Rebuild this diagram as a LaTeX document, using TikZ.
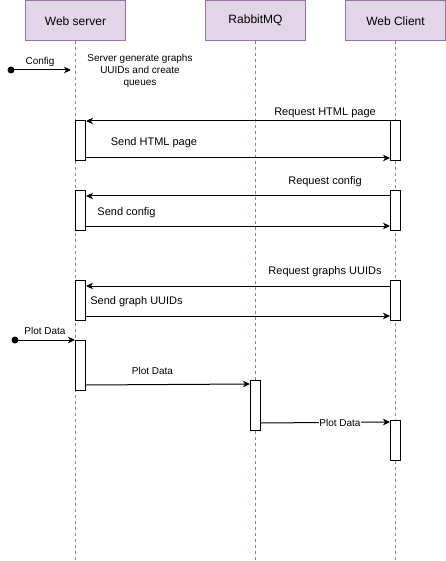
\documentclass[tikz,border=0pt]{standalone}
\usepackage{fontspec}
\setmainfont{Liberation Sans}
\usetikzlibrary{arrows.meta,calc}
\definecolor{hdrfill}{HTML}{E1D5E7}
\definecolor{hdrline}{HTML}{9673A6}
\begin{document}
\begin{tikzpicture}[x=1pt,y=-1pt,
  hdr/.style={draw=hdrline, fill=hdrfill, line width=1pt, minimum width=100pt, minimum height=39.5pt, inner sep=0pt, font=\fontsize{12}{14}\selectfont},
  life/.style={draw=hdrline, dash pattern=on 3pt off 3pt, line width=0.8pt},
  bar/.style={draw, fill=white, line width=1pt, minimum width=10pt, inner sep=0pt},
  msg/.style={draw, line width=1pt, -{Stealth[length=7pt,width=6.5pt,inset=2pt]}},
  lbl/.style={font=\fontsize{11}{13}\selectfont, inner sep=0pt, yshift=-1.5pt},
  slbl/.style={font=\fontsize{10}{12}\selectfont, inner sep=0pt, yshift=-1pt},
  dot/.style={circle, fill, inner sep=0pt, minimum size=7pt}]
\useasboundingbox (0,0) rectangle (446,561);
\coordinate (bot) at (0,561);
% headers
\node[hdr, anchor=north west] (ws) at (25,0.5) {Web server};
\node[hdr, anchor=north west] (rb) at (205,0.5) {RabbitMQ};
\node[hdr, anchor=north west] (wc) at (345,0.5) {Web Client};
% lifelines
\draw[life] (ws.south) -- (ws.south |- bot);
\draw[life] (rb.south) -- (rb.south |- bot);
\draw[life] (wc.south) -- (wc.south |- bot);
% activation bars
\node[bar, minimum height=40pt, anchor=north west] (s1) at (75,120) {};
\node[bar, minimum height=40pt, anchor=north west] (c1) at (390,120) {};
\node[bar, minimum height=40pt, anchor=north west] (s2) at (75,190) {};
\node[bar, minimum height=40pt, anchor=north west] (c2) at (390,190) {};
\node[bar, minimum height=40pt, anchor=north west] (s3) at (75,280) {};
\node[bar, minimum height=40pt, anchor=north west] (c3) at (390,280) {};
\node[bar, minimum height=50pt, anchor=north west] (s4) at (75,340) {};
\node[bar, minimum height=50pt, anchor=north west] (r1) at (250,380) {};
\node[bar, minimum height=40pt, anchor=north west] (c4) at (390,420) {};
% config
\node[dot] (d1) at (11,70) {};
\coordinate (e1) at (71,70);
\draw[msg] (d1.center) -- (e1);
\node[slbl] (lconfig) at (40,61) {Config};
\node[slbl, align=center] (note) at (140,69.5) {Server generate graphs\\UUIDs and create\\queues};
% block 1
\draw[msg] ([yshift=-1pt]c1.north west) -- ([yshift=-1pt]s1.north east);
\node[lbl] (l1) at (325,111) {Request HTML page};
\draw[msg] ([yshift=3pt]s1.south east) -- ([yshift=3pt]c1.south west);
\node[lbl] (l2) at (154,141) {Send HTML page};
% block 2
\draw[msg] ([yshift=-6pt]c2.north west) -- ([yshift=-6pt]s2.north east);
\node[lbl] (l3) at (325,180) {Request config};
\draw[msg] ([yshift=5pt]s2.south east) -- ([yshift=5pt]c2.south west);
\node[lbl] (l4) at (126.5,211) {Send config};
% block 3
\draw[msg] ([yshift=-6pt]c3.north west) -- ([yshift=-6pt]s3.north east);
\node[lbl] (l5) at (325,270) {Request graphs UUIDs};
\draw[msg] ([yshift=5pt]s3.south east) -- ([yshift=5pt]c3.south west);
\node[lbl] (l6) at (136.5,300.5) {Send graph UUIDs};
% plot data
\node[dot] (d2) at (15,340) {};
\draw[msg] (d2.center) -- (s4.north west);
\node[slbl] (l7) at (45,330) {Plot Data};
\draw[msg] ([yshift=6pt]s4.south east) -- ([yshift=-4pt]r1.north west);
\node[slbl] (l8) at (152.5,370) {Plot Data};
\draw[msg] ([yshift=8pt]r1.south east) -- ([yshift=-2pt]c4.north west);
\node[slbl, fill=white, inner sep=0.5pt] (l9) at (340,422) {Plot Data};
\end{tikzpicture}
\end{document}
